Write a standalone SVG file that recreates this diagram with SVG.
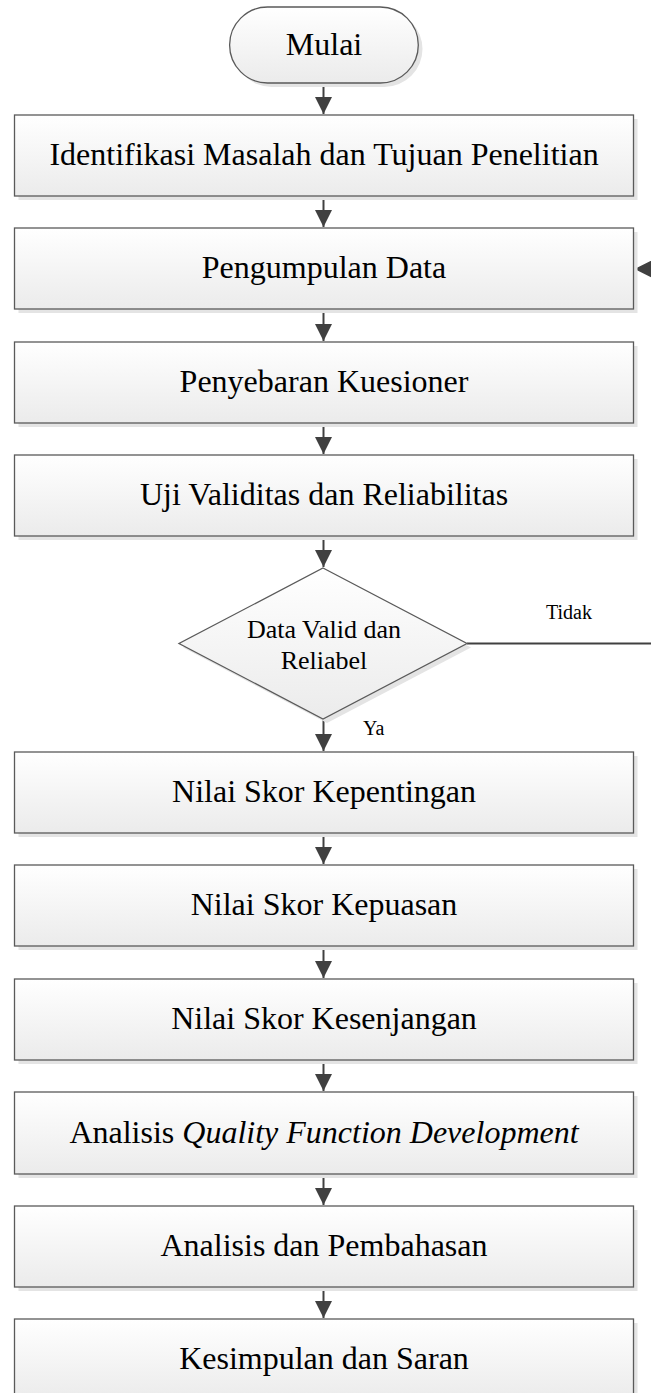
<svg xmlns="http://www.w3.org/2000/svg" width="651" height="1393" viewBox="0 0 651 1393">
<style>
.box{fill:url(#g);stroke:#5a5a5a;stroke-width:1.3}
.sh{fill:#e4e4e4}
.t{font-family:"Liberation Serif","Times New Roman",serif;font-size:32px;fill:#000;text-anchor:middle}
.d{font-size:26px}
.l{font-family:"Liberation Serif","Times New Roman",serif;font-size:20px;fill:#000}
.c{fill:none;stroke:#404040;stroke-width:2}
</style>
<defs>
<linearGradient id="g" x1="0" y1="0" x2="0" y2="1">
<stop offset="0" stop-color="#ffffff"/>
<stop offset="1" stop-color="#ebebeb"/>
</linearGradient>
<marker id="a" viewBox="0 0 10 10" refX="10" refY="5" markerWidth="8.5" markerHeight="8.5" markerUnits="userSpaceOnUse" orient="auto" preserveAspectRatio="none">
<path d="M0,0 L10,5 L0,10 z" fill="#404040"/>
</marker>
<marker id="b" viewBox="0 0 10 10" refX="10" refY="5" markerWidth="17" markerHeight="17" markerUnits="userSpaceOnUse" orient="auto" preserveAspectRatio="none">
<path d="M0,0 L10,5 L0,10 z" fill="#404040"/>
</marker>
</defs>
<rect width="651" height="1393" fill="#ffffff"/>

<g id="connectors">
<path class="c" d="M323.5,83 V114" marker-end="url(#b)"/>
<path class="c" d="M323.5,196 V227" marker-end="url(#b)"/>
<path class="c" d="M323.5,309 V341" marker-end="url(#b)"/>
<path class="c" d="M323.5,423 V454" marker-end="url(#b)"/>
<path class="c" d="M323.5,536 V567" marker-end="url(#b)"/>
<path class="c" d="M323.5,719 V751" marker-end="url(#b)"/>
<path class="c" d="M323.5,833 V864" marker-end="url(#b)"/>
<path class="c" d="M323.5,946 V978" marker-end="url(#b)"/>
<path class="c" d="M323.5,1060 V1091" marker-end="url(#b)"/>
<path class="c" d="M323.5,1174 V1205" marker-end="url(#b)"/>
<path class="c" d="M323.5,1287 V1318" marker-end="url(#b)"/>
<path class="c" d="M467,643.5 H670 V269 H634.5" marker-end="url(#b)"/>
<text class="l" x="546" y="619">Tidak</text>
<text class="l" x="363" y="735">Ya</text>
</g>

<g id="n0">
<rect class="sh" x="233.5" y="11" width="189" height="76" rx="38"/>
<rect class="box" x="229.6" y="7" width="188.7" height="76" rx="38"/>
<text class="t" x="324" y="55">Mulai</text>
</g>
<g id="n1">
<rect class="sh" x="18.5" y="119" width="619" height="81"/>
<rect class="box" x="14.5" y="115" width="619" height="81"/>
<text class="t" x="324" y="165">Identifikasi Masalah dan Tujuan Penelitian</text>
</g>
<g id="n2">
<rect class="sh" x="18.5" y="232" width="619" height="81"/>
<rect class="box" x="14.5" y="228" width="619" height="81"/>
<text class="t" x="324" y="278">Pengumpulan Data</text>
</g>
<g id="n3">
<rect class="sh" x="18.5" y="346" width="619" height="81"/>
<rect class="box" x="14.5" y="342" width="619" height="81"/>
<text class="t" x="324" y="392">Penyebaran Kuesioner</text>
</g>
<g id="n4">
<rect class="sh" x="18.5" y="459" width="619" height="81"/>
<rect class="box" x="14.5" y="455" width="619" height="81"/>
<text class="t" x="324" y="505">Uji Validitas dan Reliabilitas</text>
</g>
<g id="n5">
<polygon class="sh" points="327,572 471,647.5 327,723 183,647.5"/>
<polygon class="box" points="323,568 467,643.5 323,719 179,643.5"/>
<text class="t d" x="324" y="637.7">Data Valid dan</text>
<text class="t d" x="324" y="669.3">Reliabel</text>
</g>
<g id="n6">
<rect class="sh" x="18.5" y="756" width="619" height="81"/>
<rect class="box" x="14.5" y="752" width="619" height="81"/>
<text class="t" x="324" y="802">Nilai Skor Kepentingan</text>
</g>
<g id="n7">
<rect class="sh" x="18.5" y="869" width="619" height="81"/>
<rect class="box" x="14.5" y="865" width="619" height="81"/>
<text class="t" x="324" y="915">Nilai Skor Kepuasan</text>
</g>
<g id="n8">
<rect class="sh" x="18.5" y="983" width="619" height="81"/>
<rect class="box" x="14.5" y="979" width="619" height="81"/>
<text class="t" x="324" y="1029">Nilai Skor Kesenjangan</text>
</g>
<g id="n9">
<rect class="sh" x="18.5" y="1096" width="619" height="82"/>
<rect class="box" x="14.5" y="1092" width="619" height="82"/>
<text class="t" x="324" y="1143">Analisis <tspan font-style="italic">Quality Function Development</tspan></text>
</g>
<g id="n10">
<rect class="sh" x="18.5" y="1210" width="619" height="81"/>
<rect class="box" x="14.5" y="1206" width="619" height="81"/>
<text class="t" x="324" y="1256">Analisis dan Pembahasan</text>
</g>
<g id="n11">
<rect class="sh" x="18.5" y="1323" width="619" height="81"/>
<rect class="box" x="14.5" y="1319" width="619" height="81"/>
<text class="t" x="324" y="1369">Kesimpulan dan Saran</text>
</g>
</svg>
